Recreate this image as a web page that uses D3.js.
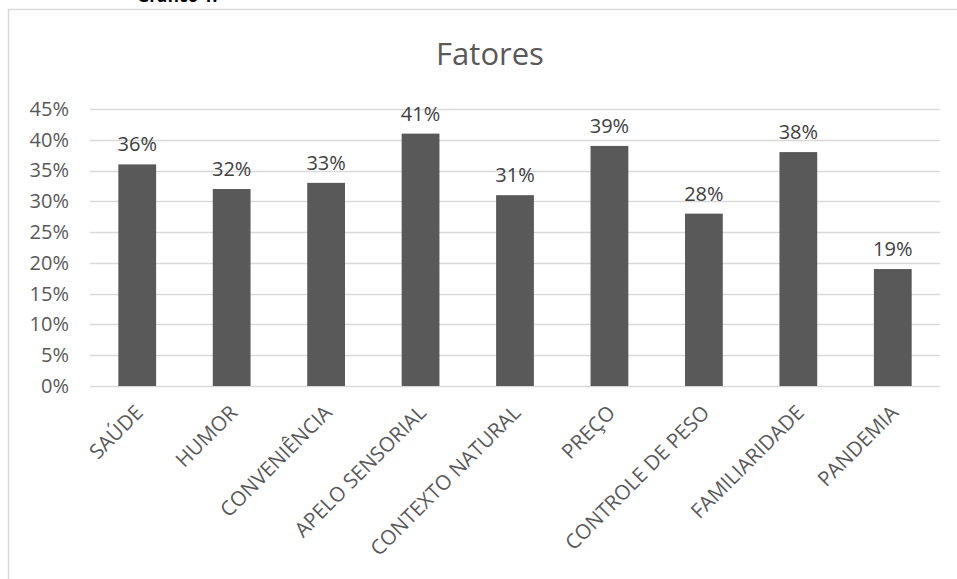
<!DOCTYPE html>
<html>
<head>
<meta charset="utf-8">
<script src="https://cdn.jsdelivr.net/npm/d3@7"></script>
<style>
  body { margin: 0; background: #fff; }
  text { font-family: "Open Sans", "Liberation Sans", sans-serif; }
</style>
</head>
<body>
<svg id="chart" width="957" height="579"></svg>
<script>
// dados do gráfico
const categories = ['SAÚDE', 'HUMOR', 'CONVENIÊNCIA', 'APELO SENSORIAL', 'CONTEXTO NATURAL',
  'PREÇO', 'CONTROLE DE PESO', 'FAMILIARIDADE', 'PANDEMIA'];
const values = [0.36, 0.32, 0.33, 0.41, 0.31, 0.39, 0.28, 0.38, 0.19];
const yTicks = [0, 0.05, 0.10, 0.15, 0.20, 0.25, 0.30, 0.35, 0.40, 0.45];
const title = 'Fatores';

const svg = d3.select('#chart');
const margin = { left: 90, right: 17, top: 109, bottom: 193 };
const W = 957, H = 579;

// legenda cortada no topo da imagem
svg.append('text')
  .attr('x', 137).attr('y', 1.5)
  .attr('font-size', 17)
  .attr('font-weight', 'bold')
  .attr('fill', '#000')
  .text('Gráfico 1:');

// borda da área do gráfico
svg.append('path')
  .attr('d', `M8.5,${H} V9.5 H${W}`)
  .attr('fill', 'none')
  .attr('stroke', '#d9d9d9')
  .attr('stroke-width', 1.5);

const x = d3.scaleBand()
  .domain(categories)
  .range([margin.left, W - margin.right])
  .paddingInner(0.6)
  .paddingOuter(0.3);

const y = d3.scaleLinear()
  .domain([0, 0.45])
  .range([H - margin.bottom, margin.top]);

// grade
svg.append('g')
  .selectAll('line')
  .data(yTicks)
  .join('line')
  .attr('x1', margin.left)
  .attr('x2', W - margin.right)
  .attr('y1', d => Math.round(y(d)) + 0.5)
  .attr('y2', d => Math.round(y(d)) + 0.5)
  .attr('stroke', '#d9d9d9')
  .attr('stroke-width', 1.3);

// eixo y
const yAxis = svg.append('g')
  .attr('transform', `translate(${margin.left - 21},0)`)
  .call(d3.axisLeft(y).tickValues(yTicks).tickFormat(d3.format('.0%')).tickSize(0).tickPadding(0));
yAxis.select('.domain').remove();
yAxis.selectAll('text')
  .attr('font-size', 20)
  .attr('fill', '#595959')
  .style('font-family', '"Open Sans", sans-serif');

// barras
svg.append('g')
  .selectAll('rect')
  .data(values)
  .join('rect')
  .attr('x', (d, i) => x(categories[i]))
  .attr('y', d => y(d))
  .attr('width', x.bandwidth())
  .attr('height', d => y(0) - y(d))
  .attr('fill', '#595959');

// rótulos de valor
svg.append('g')
  .selectAll('text')
  .data(values)
  .join('text')
  .attr('x', (d, i) => x(categories[i]) + x.bandwidth() / 2)
  .attr('y', d => y(d) - 13)
  .attr('text-anchor', 'middle')
  .attr('font-size', 20)
  .attr('fill', '#404040')
  .text(d => d3.format('.0%')(d));

// eixo x
const xAxis = svg.append('g')
  .attr('transform', `translate(0,${y(0)})`)
  .call(d3.axisBottom(x).tickSize(0).tickPadding(0));
xAxis.select('.domain').remove();
xAxis.selectAll('text')
  .attr('font-size', 20.5)
  .attr('fill', '#595959')
  .attr('text-anchor', 'end')
  .attr('dy', null)
  .attr('transform', 'translate(7,28) rotate(-45)')
  .style('font-family', '"Open Sans", sans-serif');

// título
svg.append('text')
  .attr('x', 490)
  .attr('y', 65)
  .attr('text-anchor', 'middle')
  .attr('font-size', 31)
  .attr('fill', '#595959')
  .text(title);
</script>
</body>
</html>
